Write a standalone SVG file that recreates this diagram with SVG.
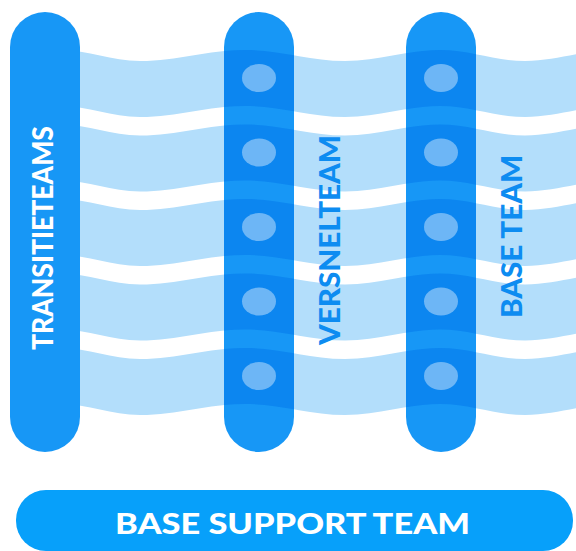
<svg xmlns="http://www.w3.org/2000/svg" xmlns:xlink="http://www.w3.org/1999/xlink" width="576" height="551" viewBox="0 0 576 551">
  <style>
    .pillar { fill: #1797f6; }
    .band { fill: #b3defb; }
    .bandDark { fill: #0c86f0; }
    .dot { fill: #6db6f6; }
    .lbl { font-family: Lato, "Open Sans", "Liberation Sans", sans-serif; font-weight: 900; text-anchor: middle; }
    .white { fill: #ffffff; }
    .blue { fill: #0d8cf1; }
  </style>
  <defs>
    <path id="wave" d="M60,0 C89,0 111,11 140,11 C178,11 207,0 245,0 C281,0 309,11 345,11 C379,11 406,0 440,0 C471,0 494,11 525,11 C557,11 583,0 615,0 L615,56 C583,56 557,67 525,67 C494,67 471,56 440,56 C406,56 379,67 345,67 C309,67 281,56 245,56 C207,56 178,67 140,67 C111,67 89,56 60,56 Z"/>
    <g id="bands">
      <use xlink:href="#wave" transform="translate(0,50)"/>
      <use xlink:href="#wave" transform="translate(0,124.5)"/>
      <use xlink:href="#wave" transform="translate(0,199)"/>
      <use xlink:href="#wave" transform="translate(0,273.5)"/>
      <use xlink:href="#wave" transform="translate(0,348)"/>
    </g>
    <clipPath id="clipMid"><rect x="224" y="12" width="70" height="440" rx="35"/></clipPath>
    <clipPath id="clipRight"><rect x="406" y="12" width="70" height="440" rx="35"/></clipPath>
  </defs>

  <g id="connectors">
    <use xlink:href="#bands" class="band"/>
  </g>

  <g id="transitieteams">
    <rect class="pillar" x="10" y="12" width="70" height="440" rx="35"/>
    <text class="lbl white" font-size="28" textLength="224" lengthAdjust="spacingAndGlyphs" transform="translate(53,238) rotate(-90)">TRANSITIETEAMS</text>
  </g>

  <g id="versnelteam">
    <rect class="pillar" x="224" y="12" width="70" height="440" rx="35"/>
    <use xlink:href="#bands" class="bandDark" clip-path="url(#clipMid)"/>
    <ellipse class="dot" cx="259" cy="78" rx="17" ry="14"/>
    <ellipse class="dot" cx="259" cy="152.5" rx="17" ry="14"/>
    <ellipse class="dot" cx="259" cy="227" rx="17" ry="14"/>
    <ellipse class="dot" cx="259" cy="301.5" rx="17" ry="14"/>
    <ellipse class="dot" cx="259" cy="376" rx="17" ry="14"/>
    <text class="lbl blue" font-size="29" textLength="210" lengthAdjust="spacingAndGlyphs" transform="translate(340,240) rotate(-90)">VERSNELTEAM</text>
  </g>

  <g id="baseteam">
    <rect class="pillar" x="406" y="12" width="70" height="440" rx="35"/>
    <use xlink:href="#bands" class="bandDark" clip-path="url(#clipRight)"/>
    <ellipse class="dot" cx="441" cy="78" rx="17" ry="14"/>
    <ellipse class="dot" cx="441" cy="152.5" rx="17" ry="14"/>
    <ellipse class="dot" cx="441" cy="227" rx="17" ry="14"/>
    <ellipse class="dot" cx="441" cy="301.5" rx="17" ry="14"/>
    <ellipse class="dot" cx="441" cy="376" rx="17" ry="14"/>
    <text class="lbl blue" font-size="29" textLength="163" lengthAdjust="spacingAndGlyphs" transform="translate(522,236.5) rotate(-90)">BASE TEAM</text>
  </g>

  <g id="base-support-team">
    <rect x="16" y="490" width="557" height="61" rx="30" fill="#07a0fa"/>
    <text class="lbl white" font-size="28" x="292.5" y="534" textLength="355" lengthAdjust="spacingAndGlyphs">BASE SUPPORT TEAM</text>
  </g>
</svg>
